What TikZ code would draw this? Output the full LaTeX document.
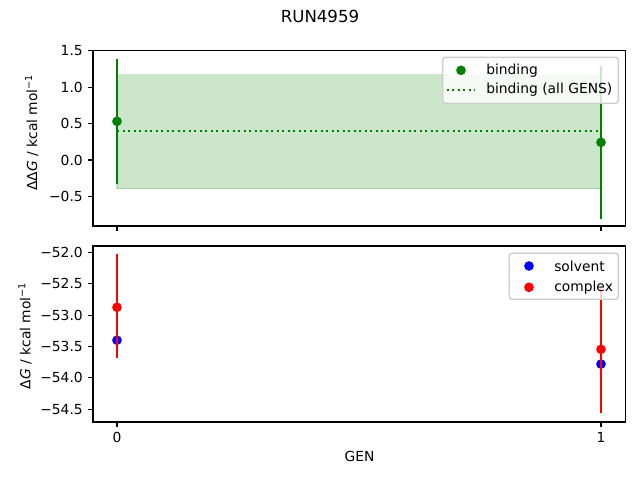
\documentclass[tikz,border=0pt]{standalone}
\usepackage{fontspec}
\setmainfont{DejaVu Sans}
\usepackage{tikz}
\usetikzlibrary{positioning}

\definecolor{mplgreen}{RGB}{0,128,0}
\definecolor{legendedge}{gray}{0.8}

\begin{document}
\begin{tikzpicture}[x=0.01in,y=-0.01in,
    tick/.style={line width=0.8pt},
    ticklabel/.style={font=\fontsize{10}{12}\selectfont,inner sep=0pt},
    errbar/.style={line width=1.5pt},
    dot/.style={circle,inner sep=0pt,minimum size=7pt},
    legendbox/.style={draw=legendedge,fill=white,fill opacity=0.8,rounded corners=2pt,line width=1pt}]
    \useasboundingbox (0,0) rectangle (640,480);

    % Title
    \node[font=\fontsize{12}{14}\selectfont] (title) at (320,16) {RUN4959};

    % Top panel: binding free energy
    \begin{scope}[shift={(117,160)},xscale=484,yscale=-72.7]
        \filldraw[fill=mplgreen,draw=mplgreen,opacity=0.2,line width=1pt] (0,-0.395) rectangle (1,1.173);
        \draw[mplgreen,line width=1.5pt,dash pattern=on 1.5pt off 2.475pt] (0,0.403) -- (1,0.403);
        \draw[errbar,mplgreen] (0,-0.33) -- (0,1.393);
        \draw[errbar,mplgreen] (1,-0.807) -- (1,1.293);
        \node[dot,fill=mplgreen] (bind0) at (0,0.532) {};
        \node[dot,fill=mplgreen] (bind1) at (1,0.243) {};
    \end{scope}

    % Top axes
    \draw[tick] (93,50.7) rectangle (625.7,226);
    \foreach \v/\t in {-0.5/−0.5,0/0.0,0.5/0.5,1/1.0,1.5/1.5}{
        \draw[tick] (93,{160-72.7*\v}) -- ++(-4.86,0) node[ticklabel,anchor=east,xshift=-3.5pt] {\t};
    }
    \foreach \g in {0,1}{
        \draw[tick] ({117+484*\g},226) -- ++(0,4.86);
    }
    \node[rotate=90,font=\fontsize{10}{12}\selectfont] (ylabtop) at (31.7,132.5) {ΔΔ\textit{G} / kcal mol\textsuperscript{−1}};

    % Top legend
    \draw[legendbox] (442.7,57.3) rectangle (618.3,103.3);
    \node[dot,fill=mplgreen] (legbind) at (461,70.3) {};
    \draw[mplgreen,line width=1.5pt,dash pattern=on 1.5pt off 2.475pt] (446.7,90) -- (475,90);
    \node[ticklabel,anchor=west] (txtbind) at (486,70.3) {binding};
    \node[ticklabel,anchor=west] (txtall) at (486,90) {binding (all GENS)};

    % Bottom panel: solvent and complex
    \begin{scope}[shift={(117,-3013.3)},xscale=484,yscale=-62.8]
        \node[dot,fill=blue] (solv0) at (0,-53.40) {};
        \node[dot,fill=blue] (solv1) at (1,-53.78) {};
        \node[dot,fill=red] (comp0) at (0,-52.876) {};
        \node[dot,fill=red] (comp1) at (1,-53.545) {};
        \draw[errbar,red] (0,-53.69) -- (0,-52.03);
        \draw[errbar,red] (1,-54.56) -- (1,-52.55);
    \end{scope}

    % Bottom axes
    \draw[tick] (93,246) rectangle (625.7,422);
    \foreach \v/\t in {-52/−52.0,-52.5/−52.5,-53/−53.0,-53.5/−53.5,-54/−54.0,-54.5/−54.5}{
        \draw[tick] (93,{252.3-62.8*(\v+52)}) -- ++(-4.86,0) node[ticklabel,anchor=east,xshift=-3.5pt] {\t};
    }
    \foreach \g in {0,1}{
        \draw[tick] ({117+484*\g},422) -- ++(0,4.86) node[ticklabel,anchor=north,yshift=-3.5pt] {\g};
    }
    \node[rotate=90,font=\fontsize{10}{12}\selectfont] (ylabbot) at (25,335.8) {Δ\textit{G} / kcal mol\textsuperscript{−1}};
    \node[font=\fontsize{10}{12}\selectfont] (xlab) at (359.5,456.7) {GEN};

    % Bottom legend
    \draw[legendbox] (509.3,253.3) rectangle (618.3,299.3);
    \node[dot,fill=blue] (legsolv) at (529,266) {};
    \node[dot,fill=red] (legcomp) at (529,287.3) {};
    \node[ticklabel,anchor=west] (txtsolv) at (554,266) {solvent};
    \node[ticklabel,anchor=west] (txtcomp) at (554,287.3) {complex};
\end{tikzpicture}
\end{document}
